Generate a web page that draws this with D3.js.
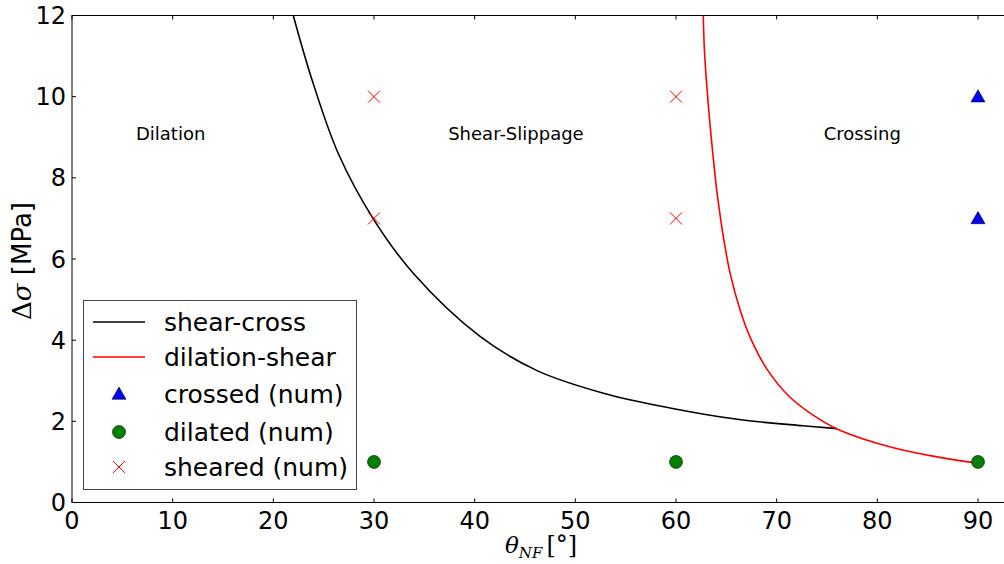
<!DOCTYPE html>
<html><head><meta charset="utf-8">
<script src="https://cdn.jsdelivr.net/npm/d3@7"></script>
<style>body{margin:0;background:#fff}svg{display:block}</style>
</head><body>
<svg id="c" width="1004" height="564"></svg>
<script>
// ---- data ----
const shearCrossX = [21.98, 23.8, 26.45, 29.93, 33.9, 40.5, 46.2, 52.7, 59.4, 66.1, 72.6, 76.0];
const shearCrossY = [12.0, 10.45, 8.6, 6.99, 5.65, 4.1, 3.25, 2.70, 2.33, 2.05, 1.89, 1.82];
const dilShearX = [62.71, 62.88, 63.97, 64.2, 64.7, 65.4, 66.4, 67.4, 69.0, 71.3, 74.0, 76.1, 81.6, 89.0, 90.0];
const dilShearY = [12.0, 10.9, 7.85, 7.4, 6.55, 5.62, 4.72, 4.05, 3.3, 2.6, 2.09, 1.80, 1.35, 1.0, 0.98];
const crossedX = [90, 90];
const crossedY = [10, 7];
const dilatedX = [30, 60, 90];
const dilatedY = [1, 1, 1];
const shearedX = [30, 30, 60, 60];
const shearedY = [10, 7, 10, 7];
const xTicks = [0, 10, 20, 30, 40, 50, 60, 70, 80, 90];
const yTicks = [0, 2, 4, 6, 8, 10, 12];
const regionLabels = ["Dilation", "Shear-Slippage", "Crossing"];
const regionX = [9.8, 44.1, 78.5];
const regionY = [9.1, 9.1, 9.1];
const legendLabels = ["shear-cross", "dilation-shear", "crossed (num)", "dilated (num)", "sheared (num)"];

// ---- layout ----
const svg = d3.select("#c");
const L = 72, T = 15.5, B = 502.5;
const x = d3.scaleLinear().domain([0, 90]).range([L, 978]);
const y = d3.scaleLinear().domain([0, 12]).range([B, T]);
const xMax = 95; // axes extend past the canvas on the right
const font = "DejaVu Sans, sans-serif";

// spines
svg.append("rect").attr("x", L).attr("y", T).attr("width", x(xMax) - L).attr("height", B - T)
  .attr("fill", "none").attr("stroke", "#000").attr("stroke-width", 1);

// ticks (inward)
const tl = 4;
const g = svg.append("g");
xTicks.forEach(v => {
  g.append("line").attr("x1", x(v)).attr("x2", x(v)).attr("y1", B).attr("y2", B - tl).attr("stroke", "#000");
  g.append("line").attr("x1", x(v)).attr("x2", x(v)).attr("y1", T).attr("y2", T + tl).attr("stroke", "#000");
  g.append("text").attr("x", x(v)).attr("y", B + 26).attr("text-anchor", "middle")
    .attr("font-family", font).attr("font-size", 24).text(v);
});
yTicks.forEach(v => {
  g.append("line").attr("x1", L).attr("x2", L + tl).attr("y1", y(v)).attr("y2", y(v)).attr("stroke", "#000");
  g.append("text").attr("x", L - 6).attr("y", y(v)).attr("dy", "0.36em").attr("text-anchor", "end")
    .attr("font-family", font).attr("font-size", 24).text(v);
});

// clip
svg.append("clipPath").attr("id", "clip").append("rect")
  .attr("x", L).attr("y", T).attr("width", 1004 - L).attr("height", B - T);

const line = d3.line().x(d => x(d[0])).y(d => y(d[1])).curve(d3.curveCatmullRom.alpha(0.5));
const plot = svg.append("g").attr("clip-path", "url(#clip)");
plot.append("path").datum(d3.zip(shearCrossX, shearCrossY)).attr("d", line)
  .attr("fill", "none").attr("stroke", "#000").attr("stroke-width", 1.6);
plot.append("path").datum(d3.zip(dilShearX, dilShearY)).attr("d", line)
  .attr("fill", "none").attr("stroke", "#ff0000").attr("stroke-width", 1.6);

// markers
const tri = d3.symbol().type(d3.symbolTriangle).size(85);
function drawTri(sel, cx, cy) {
  sel.append("path").attr("d", tri()).attr("transform", `translate(${cx},${cy + 1.2})`)
    .attr("fill", "#0000ff").attr("stroke", "#000").attr("stroke-width", 0.6);
}
function drawCirc(sel, cx, cy) {
  sel.append("circle").attr("cx", cx).attr("cy", cy).attr("r", 6.5)
    .attr("fill", "#008000").attr("stroke", "#000").attr("stroke-width", 0.6);
}
function drawX(sel, cx, cy) {
  const s = 6;
  sel.append("path").attr("d", `M${cx - s},${cy - s}L${cx + s},${cy + s}M${cx - s},${cy + s}L${cx + s},${cy - s}`)
    .attr("stroke", "#ff0000").attr("stroke-width", 1).attr("fill", "none");
}
d3.zip(shearedX, shearedY).forEach(d => drawX(svg, x(d[0]), y(d[1])));
d3.zip(dilatedX, dilatedY).forEach(d => drawCirc(svg, x(d[0]), y(d[1])));
d3.zip(crossedX, crossedY).forEach(d => drawTri(svg, x(d[0]), y(d[1])));

// region labels
regionLabels.forEach((t, i) => {
  svg.append("text").attr("x", x(regionX[i])).attr("y", y(regionY[i])).attr("dy", "0.36em")
    .attr("text-anchor", "middle").attr("font-family", font).attr("font-size", 18).text(t);
});

// legend
const lg = svg.append("g");
lg.append("rect").attr("x", 83.5).attr("y", 300.5).attr("width", 273).attr("height", 189)
  .attr("fill", "#fff").attr("stroke", "#444").attr("stroke-width", 1);
const rowY = [322, 357, 394, 432, 467];
lg.append("line").attr("x1", 93).attr("x2", 145).attr("y1", rowY[0]).attr("y2", rowY[0]).attr("stroke", "#000").attr("stroke-width", 1.6);
lg.append("line").attr("x1", 93).attr("x2", 145).attr("y1", rowY[1]).attr("y2", rowY[1]).attr("stroke", "#ff0000").attr("stroke-width", 1.6);
drawTri(lg, 119, rowY[2]);
drawCirc(lg, 119, rowY[3]);
drawX(lg, 119, rowY[4]);
legendLabels.forEach((t, i) => {
  lg.append("text").attr("x", 164).attr("y", rowY[i]).attr("dy", "0.36em")
    .attr("font-family", font).attr("font-size", 25).text(t);
});

// axis labels
const yl = svg.append("text").attr("transform", "translate(31,261) rotate(-90)")
  .attr("text-anchor", "middle").attr("font-size", 26).attr("font-family", font);
yl.append("tspan").attr("font-family", "DejaVu Serif, serif").text("Δ");
yl.append("tspan").attr("font-family", "DejaVu Serif, serif").attr("font-style", "italic").text("σ");
yl.append("tspan").text(" [MPa]");

const xl = svg.append("text").attr("x", 505).attr("y", 553).attr("text-anchor", "start")
  .attr("font-size", 23).attr("font-family", "DejaVu Serif, serif");
xl.append("tspan").attr("font-style", "italic").text("θ");
xl.append("tspan").attr("font-style", "italic").attr("font-size", 15).attr("dy", 5).text("NF");
xl.append("tspan").attr("dy", -5).attr("dx", 4).attr("font-size", 24).text("[°]");
</script>
</body></html>
